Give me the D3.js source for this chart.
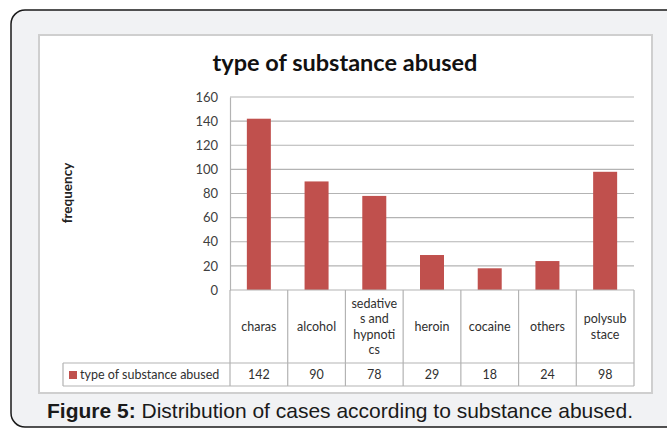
<!DOCTYPE html>
<html>
<head>
<meta charset="utf-8">
<title>type of substance abused</title>
<style>
body { margin: 0; background: #fff; }
.tick-lab { font-family: Lato, "Open Sans", sans-serif; font-size: 13px; fill: #404040; }
.cell { font-family: Lato, "Open Sans", sans-serif; font-size: 12.5px; fill: #303030; }
</style>
</head>
<body>
<script src="https://cdn.jsdelivr.net/npm/d3@7"></script>
<script>
// data
var categories = ["charas", "alcohol", "sedatives and hypnotics", "heroin", "cocaine", "others", "polysubstace"];
var catLines = [["charas"], ["alcohol"], ["sedative", "s and", "hypnoti", "cs"], ["heroin"], ["cocaine"], ["others"], ["polysub", "stace"]];
var values = [142, 90, 78, 29, 18, 24, 98];
var yTicks = [0, 20, 40, 60, 80, 100, 120, 140, 160];
var seriesName = "type of substance abused";

var W = 667, H = 428;
var svg = d3.select("body").append("svg")
	.attr("width", W)
	.attr("height", H);

// outer panel
svg.append("rect")
	.attr("x", 11).attr("y", 10)
	.attr("width", 700).attr("height", 417)
	.attr("rx", 14)
	.attr("fill", "#f1f2f4")
	.attr("stroke", "#1a1a1a")
	.attr("stroke-width", 1.5);

// chart area (white with a soft edge)
svg.append("rect")
	.attr("x", 39).attr("y", 35)
	.attr("width", 613).attr("height", 358)
	.attr("fill", "#fff")
	.attr("stroke", "#cfcfcf")
	.attr("stroke-width", 2);

svg.append("text")
	.attr("x", 345).attr("y", 71)
	.attr("text-anchor", "middle")
	.attr("font-family", "Lato, 'Open Sans', sans-serif")
	.attr("font-weight", "bold")
	.attr("font-size", 23.5)
	.attr("fill", "#111")
	.text("type of substance abused");

var x = d3.scaleBand()
	.domain(categories)
	.range([230, 634]);
var y = d3.scaleLinear()
	.domain([0, 160])
	.range([290, 97]);

// gridlines
svg.selectAll(".grid")
	.data(yTicks.slice(1))
	.enter().append("line")
	.attr("x1", 230).attr("x2", 634)
	.attr("y1", d => y(d)).attr("y2", d => y(d))
	.attr("stroke", "#b3b3b3")
	.attr("stroke-width", 1.2);

var axisY = d3.axisLeft(y).tickValues(yTicks).tickSize(0).tickPadding(12);
var gy = svg.append("g")
	.attr("transform", "translate(230,0)")
	.call(axisY);
gy.select(".domain").attr("stroke", "#b3b3b3").attr("stroke-width", 1.2);
gy.selectAll("text").attr("class", "tick-lab").attr("font-family", null).attr("font-size", null);

svg.append("text")
	.attr("transform", "translate(67,193) rotate(-90)")
	.attr("text-anchor", "middle")
	.attr("dy", "0.35em")
	.attr("font-family", "Lato, 'Open Sans', sans-serif")
	.attr("font-weight", "bold")
	.attr("font-size", 13.5)
	.attr("fill", "#222")
	.text("frequency");

// bars
var barW = 24;
svg.selectAll(".bar")
	.data(values)
	.enter().append("rect")
	.attr("x", (d, i) => x(categories[i]) + x.bandwidth() / 2 - barW / 2)
	.attr("y", d => y(d))
	.attr("width", barW)
	.attr("height", d => y(0) - y(d))
	.attr("fill", "#c0504d");

// data table
var rowTop = 290, rowMid = 363, rowBot = 386, legX = 63;
var tbl = svg.append("g").attr("stroke", "#b3b3b3").attr("stroke-width", 1.2);
tbl.append("line").attr("x1", 230).attr("x2", 634).attr("y1", rowTop).attr("y2", rowTop);
tbl.append("line").attr("x1", legX).attr("x2", 634).attr("y1", rowMid).attr("y2", rowMid);
tbl.append("line").attr("x1", legX).attr("x2", 634).attr("y1", rowBot).attr("y2", rowBot);
tbl.append("line").attr("x1", legX).attr("x2", legX).attr("y1", rowMid).attr("y2", rowBot);
tbl.selectAll(".vl")
	.data(categories.concat(["end"]))
	.enter().append("line")
	.attr("x1", (d, i) => 230 + i * x.bandwidth())
	.attr("x2", (d, i) => 230 + i * x.bandwidth())
	.attr("y1", rowTop).attr("y2", rowBot);

catLines.forEach(function(lines, i) {
	var cx = x(categories[i]) + x.bandwidth() / 2;
	var lh = 15.5;
	var y0 = (rowTop + rowMid) / 2 - (lines.length - 1) * lh / 2;
	lines.forEach(function(s, j) {
		svg.append("text")
			.attr("class", "cell")
			.attr("x", cx)
			.attr("y", y0 + j * lh)
			.attr("dy", "0.35em")
			.attr("text-anchor", "middle")
			.text(s);
	});
});

svg.selectAll(".val")
	.data(values)
	.enter().append("text")
	.attr("class", "cell")
	.attr("x", (d, i) => x(categories[i]) + x.bandwidth() / 2)
	.attr("y", (rowMid + rowBot) / 2)
	.attr("dy", "0.35em")
	.attr("text-anchor", "middle")
	.text(d => d);

svg.append("rect")
	.attr("x", 69).attr("y", 371)
	.attr("width", 8).attr("height", 8)
	.attr("fill", "#c0504d");
svg.append("text")
	.attr("class", "cell")
	.attr("x", 80)
	.attr("y", (rowMid + rowBot) / 2)
	.attr("dy", "0.35em")
	.attr("font-size", 12)
	.text(seriesName);

// caption
var cap = svg.append("text")
	.attr("x", 340).attr("y", 418)
	.attr("text-anchor", "middle")
	.attr("font-family", "'Liberation Sans', Arial, sans-serif")
	.attr("font-size", 21)
	.attr("fill", "#1a1a1a");
cap.append("tspan").attr("font-weight", "bold").text("Figure 5:");
cap.append("tspan").text(" Distribution of cases according to substance abused.");
</script>
</body>
</html>
